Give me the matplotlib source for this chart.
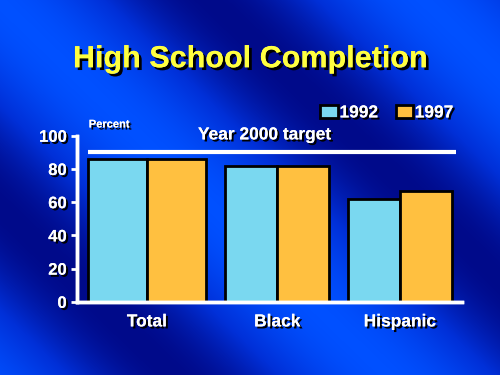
import numpy as np
import matplotlib.pyplot as plt
import matplotlib.patheffects as pe
from matplotlib.colors import LinearSegmentedColormap

categories = ['Total', 'Black', 'Hispanic']
vals_1992 = [86, 82, 62]
vals_1997 = [86, 82, 67]
target = 90
yticks = [0, 20, 40, 60, 80, 100]

plt.rcParams['font.family'] = ['Liberation Sans', 'DejaVu Sans']
shadow = [pe.withSimplePatchShadow(offset=(1.5, -1.5), shadow_rgbFace='black', alpha=1), pe.Normal()]

fig = plt.figure(figsize=(5, 3.75), dpi=100)

# background gradient
bg = fig.add_axes([0, 0, 1, 1])
yy, xx = np.mgrid[0:1:375j, 0:1:500j]
d = xx * 0.9 + (1 - yy) * 0.7
g = 0.5 + 0.5 * np.cos(d * 2 * np.pi * 1.3 + 0.6)
cmap = LinearSegmentedColormap.from_list('bg', ['#000a8a', '#0030d8', '#0050ff'])
bg.imshow(g, cmap=cmap, aspect='auto', extent=[0, 1, 0, 1])
bg.axis('off')

ax = fig.add_axes([0.154, 0.195, 0.77, 0.443])
ax.patch.set_alpha(0)
pos = np.array([0, 1.03, 2])
widths = np.array([0.466, 0.41, 0.41])
ax.bar(pos - widths / 2, vals_1992, widths, align='center', color='#7ad8f0', edgecolor='black', linewidth=2, label='1992')
ax.bar(pos + widths / 2, vals_1997, widths, align='center', color='#ffc040', edgecolor='black', linewidth=2, label='1997')
ax.plot([-0.47, 2.44], [target, target], color='white', lw=3, solid_capstyle='butt')
ax.text(0.93, target + 6, 'Year 2000 target', color='white', fontsize=12.5, fontweight='bold',
        ha='center', va='bottom', path_effects=shadow)

ax.set_xlim(-0.553, 2.49)
ax.set_ylim(0, 100)
ax.set_yticks(yticks)
ax.set_xticks(pos)
ax.set_xticklabels(categories)
for s in ['top', 'right']:
    ax.spines[s].set_visible(False)
for s in ['left', 'bottom']:
    ax.spines[s].set_color('white')
    ax.spines[s].set_linewidth(2.5)
    ax.spines[s].set_path_effects(shadow)
ax.tick_params(axis='y', colors='white', width=2, length=4, labelsize=12)
ax.tick_params(axis='x', length=0, colors='white', labelsize=12.5, pad=9)
for lab in ax.get_xticklabels() + ax.get_yticklabels():
    lab.set_fontweight('bold')
    lab.set_path_effects(shadow)

ax.text(-0.46, 105, 'Percent', color='white', fontsize=8, fontweight='bold', path_effects=shadow)

leg = ax.legend(loc='lower right', bbox_to_anchor=(1.0, 1.04), ncol=2, frameon=False, fontsize=12.5,
                handlelength=1.0, handleheight=0.8, handletextpad=0.1, columnspacing=1.0, borderpad=0)
for t in leg.get_texts():
    t.set_color('white')
    t.set_fontweight('bold')
    t.set_path_effects(shadow)

fig.text(0.5, 0.842, 'High School Completion', color='#ffff40', fontsize=22, fontweight='bold',
         ha='center', va='center', path_effects=[pe.withSimplePatchShadow(offset=(2, -2), shadow_rgbFace='black', alpha=1), pe.Normal()])

fig.savefig('out.png', dpi=100)
